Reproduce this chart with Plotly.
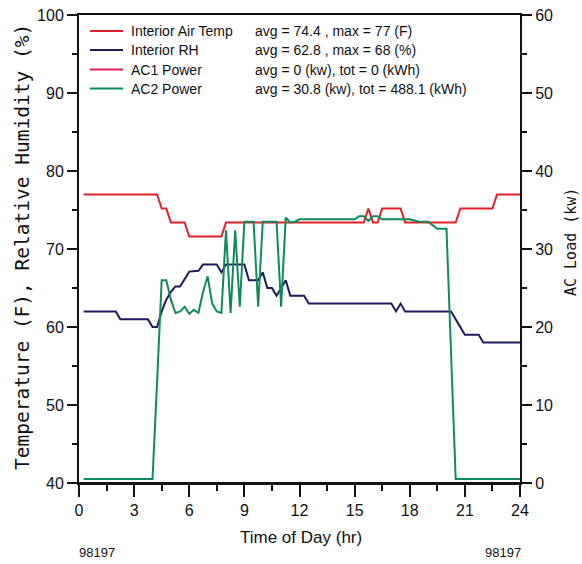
import plotly.graph_objects as go

# ---------------- data ----------------
hours_temp = [0.25, 4.25, 4.5, 4.75, 5.0, 5.75, 6.0, 7.75, 8.0, 15.5, 15.75, 16.0,
              16.25, 16.5, 17.5, 17.75, 20.5, 20.75, 22.5, 22.75, 24.0]
temp_f = [77, 77, 75.2, 75.2, 73.4, 73.4, 71.6, 71.6, 73.4, 73.4, 75.2, 73.4,
          73.4, 75.2, 75.2, 73.4, 73.4, 75.2, 75.2, 77, 77]

hours_rh = [0.25, 2.0, 2.25, 3.75, 4.0, 4.25, 4.5, 4.75, 5.0, 5.25, 5.5, 5.75, 6.0,
            6.5, 6.75, 7.5, 7.75, 8.0, 9.0, 9.25, 9.75, 10.0, 10.25, 10.5, 10.75,
            11.0, 11.25, 11.5, 12.25, 12.5, 17.0, 17.25, 17.5, 17.75, 20.25, 20.5,
            20.75, 21.0, 21.75, 22.0, 24.0]
rh_pct = [62, 62, 61, 61, 60, 60, 62, 63.5, 64.5, 65.2, 65.2, 66.2, 67.1,
          67.2, 68, 68, 67, 68, 68, 66, 66, 67, 65, 65, 64,
          65, 66, 64, 64, 63, 63, 62, 63, 62, 62, 61,
          60, 59, 59, 58, 58]

hours_ac1 = [0.25, 24.0]
ac1_kw = [0, 0]

hours_ac2 = [0.25, 4.0, 4.25, 4.5, 4.75, 5.0, 5.25, 5.5, 5.75, 6.0, 6.25, 6.5, 6.75,
             7.0, 7.25, 7.5, 7.75, 8.0, 8.25, 8.5, 8.75, 9.0, 9.25, 9.5, 9.75, 10.0,
             10.25, 10.5, 10.75, 11.0, 11.25, 11.5, 11.75, 12.0, 15.0, 15.25, 15.5,
             15.75, 16.0, 16.25, 16.5, 18.0, 18.25, 18.5, 19.0, 19.25, 19.5, 20.0,
             20.25, 20.5, 24.0]
ac2_kw = [0.5, 0.5, 13, 26, 26, 23.5, 21.8, 22, 22.6, 21.7, 22.2, 21.8, 24.5,
          26.5, 23, 22, 21.8, 32.4, 21.8, 32.4, 22.6, 33.5, 33.5, 33.5, 22.6, 33.5,
          33.5, 33.5, 33.5, 22.6, 34, 33.4, 33.5, 33.8, 33.8, 34.2, 34.2,
          33.6, 34.2, 34.2, 33.8, 33.8, 33.6, 33.5, 33.5, 33, 32.6, 32.6,
          16, 0.5, 0.5]

x_ticks = [0, 3, 6, 9, 12, 15, 18, 21, 24]

series_names = ["Interior Air Temp", "Interior RH", "AC1 Power", "AC2 Power"]
series_stats = ["avg = 74.4 , max = 77 (F)",
                "avg = 62.8 , max = 68 (%)",
                "avg = 0 (kw), tot = 0 (kWh)",
                "avg = 30.8 (kw), tot = 488.1 (kWh)"]
date_label = "98197"

# ---------------- styles ----------------
C_TEMP = "#e3202a"
C_RH = "#1e1b5c"
C_AC1 = "#e31d55"
C_AC2 = "#0f8a5c"
colors = [C_TEMP, C_RH, C_AC1, C_AC2]

SANS = "Liberation Sans, Arial, sans-serif"
MONO = "DejaVu Sans Mono, monospace"

W, H = 582, 564
L, R, T, B = 79, 62, 15, 81
PW, PH = W - L - R, H - T - B


def px(x):
    return (x - L) / PW


def py(y):
    return (H - B - y) / PH


fig = go.Figure()
fig.add_trace(go.Scatter(x=hours_ac1, y=ac1_kw, yaxis="y2", mode="lines",
                         line=dict(color=C_AC1, width=1.5), name=series_names[2]))
fig.add_trace(go.Scatter(x=hours_temp, y=temp_f, mode="lines",
                         line=dict(color=C_TEMP, width=2), name=series_names[0]))
fig.add_trace(go.Scatter(x=hours_rh, y=rh_pct, mode="lines",
                         line=dict(color=C_RH, width=2), name=series_names[1]))
fig.add_trace(go.Scatter(x=hours_ac2, y=ac2_kw, yaxis="y2", mode="lines",
                         line=dict(color=C_AC2, width=2), name=series_names[3]))

tickfont = dict(family=SANS, size=16, color="#111")
AX = "#111"

fig.update_layout(
    width=W, height=H,
    margin=dict(l=L, r=R, t=T, b=B, pad=0),
    paper_bgcolor="white", plot_bgcolor="white",
    showlegend=False,
    xaxis=dict(range=[0, 24], tickvals=x_ticks, ticks="outside", ticklen=12,
               tickwidth=1.5, tickcolor=AX, showline=True, linecolor=AX,
               linewidth=2, mirror=True, showgrid=False, zeroline=False,
               tickfont=tickfont, automargin=False,
               minor=dict(dtick=1.5, tick0=0, ticks="outside", ticklen=6,
                          tickwidth=1.5, tickcolor=AX, showgrid=False)),
    yaxis=dict(range=[40, 100], dtick=10, ticks="outside", ticklen=10,
               tickwidth=1.5, tickcolor=AX, showline=True, linecolor=AX,
               linewidth=2, showgrid=False, zeroline=False, tickfont=tickfont,
               automargin=False,
               minor=dict(dtick=5, ticks="outside", ticklen=5, tickwidth=1.5,
                          tickcolor=AX, showgrid=False)),
    yaxis2=dict(range=[0, 60], dtick=10, overlaying="y", side="right",
                ticks="outside", ticklen=10, tickwidth=1.5, tickcolor=AX,
                showline=True, linecolor=AX, linewidth=2, showgrid=False,
                zeroline=False, tickfont=tickfont, automargin=False,
                minor=dict(dtick=5, ticks="outside", ticklen=5, tickwidth=1.5,
                           tickcolor=AX, showgrid=False)),
)

annotations = []
shapes = []
rows_y = [31, 50, 69.5, 88.5]
for name, stat, col, ry in zip(series_names, series_stats, colors, rows_y):
    shapes.append(dict(type="line", xref="paper", yref="paper",
                       x0=px(90), x1=px(123), y0=py(ry), y1=py(ry),
                       line=dict(color=col, width=2)))
    annotations.append(dict(text=name, xref="paper", yref="paper", x=px(129),
                            y=py(ry), xanchor="left", yanchor="middle",
                            showarrow=False,
                            font=dict(family=SANS, size=14, color="#111")))
    annotations.append(dict(text=stat, xref="paper", yref="paper", x=px(253),
                            y=py(ry), xanchor="left", yanchor="middle",
                            showarrow=False,
                            font=dict(family=SANS, size=14, color="#111")))

# bottom frame edge drawn over the zero-level trace (as in the reference)
shapes.append(dict(type="line", xref="paper", yref="paper", x0=0, x1=1, y0=0, y1=0,
                   layer="above", line=dict(color=AX, width=2)))

annotations.append(dict(text="Temperature (F), Relative Humidity (%)", xref="paper",
                        yref="paper", x=px(22), y=py(247), xanchor="center",
                        yanchor="middle", textangle=-90, showarrow=False,
                        font=dict(family=MONO, size=19.5, color="#111")))
annotations.append(dict(text="AC Load (kw)", xref="paper", yref="paper",
                        x=px(571), y=py(242), xanchor="center", yanchor="middle",
                        textangle=-90, showarrow=False,
                        font=dict(family=MONO, size=15, color="#111")))
annotations.append(dict(text="Time of Day (hr)", xref="paper", yref="paper",
                        x=px(301), y=py(537), xanchor="center", yanchor="middle",
                        showarrow=False,
                        font=dict(family=SANS, size=17, color="#111")))
annotations.append(dict(text=date_label, xref="paper", yref="paper", x=px(97),
                        y=py(552), xanchor="center", yanchor="middle",
                        showarrow=False,
                        font=dict(family=SANS, size=13, color="#111")))
annotations.append(dict(text=date_label, xref="paper", yref="paper", x=px(503),
                        y=py(552), xanchor="center", yanchor="middle",
                        showarrow=False,
                        font=dict(family=SANS, size=13, color="#111")))

fig.update_layout(annotations=annotations, shapes=shapes)
fig.write_html("out.html")
